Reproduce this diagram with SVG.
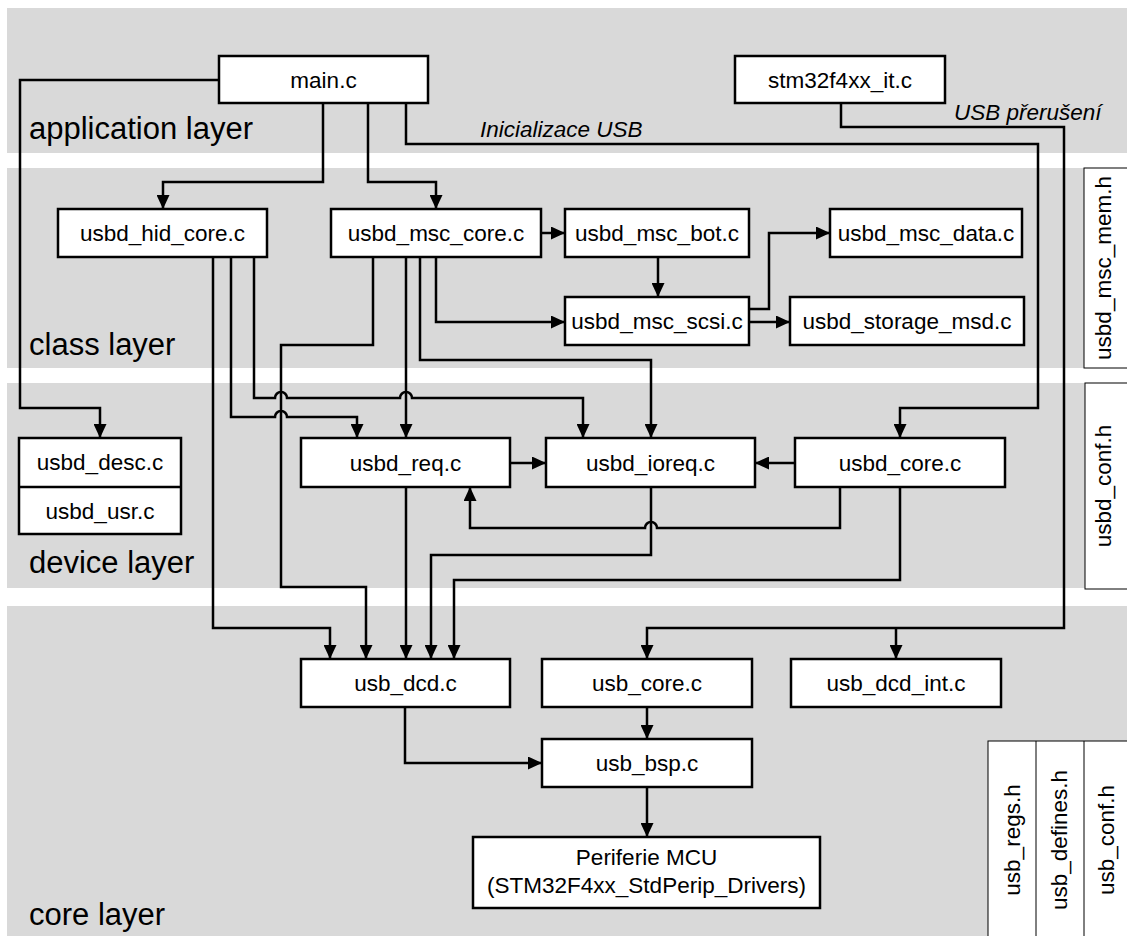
<svg xmlns="http://www.w3.org/2000/svg" width="1127" height="936" viewBox="0 0 1127 936">
<style>
.band{fill:#d9d9d9}
.box{fill:#fff;stroke:#000;stroke-width:2.5}
.hdr{fill:#fff;stroke:#000;stroke-width:1}
text{font-family:"Liberation Sans",Arial,sans-serif;fill:#000}
.t{font-size:22.5px;text-anchor:middle}
.layer{font-size:31px}
.it{font-size:22.5px;font-style:italic}
.c{fill:none;stroke:#000;stroke-width:2.5}
</style>
<defs>
<marker id="ah" markerUnits="userSpaceOnUse" markerWidth="14" markerHeight="13" refX="14" refY="6.5" orient="auto">
<path d="M0,0 L14,6.5 L0,13 z" fill="#000"/>
</marker>
</defs>
<g id="bands">
<rect class="band" x="7" y="8" width="1120" height="145"/>
<rect class="band" x="7" y="168" width="1120" height="200"/>
<rect class="band" x="7" y="383" width="1120" height="205"/>
<rect class="band" x="7" y="606" width="1120" height="330"/>
<text class="layer" x="29" y="139">application layer</text>
<text class="layer" x="29" y="355">class layer</text>
<text class="layer" x="29" y="573">device layer</text>
<text class="layer" x="29" y="925">core layer</text>
</g>
<g id="connectors" class="c" marker-end="url(#ah)">
<path d="M219,80 H20 V408 H100 V438"/>
<path d="M323,103 V182 H163 V209"/>
<path d="M368,103 V182 H436 V209"/>
<path d="M406,103 V144 H1038 V408 H900 V438"/>
<path d="M841,103 V127 H1064 V628 H647 V659"/>
<path d="M896,628 V659"/>
<path d="M541,233 H565"/>
<path d="M436,257 V322 H565"/>
<path d="M420,257 V360 H651 V438"/>
<path d="M406,257 V438"/>
<path d="M373,257 V345 H281 V587 H366 V659"/>
<path d="M658,257 V297"/>
<path d="M749,309 H769 V233 H830"/>
<path d="M749,322 H790"/>
<path d="M213,257 V628 H330 V659"/>
<path d="M231,257 V417 H275 a6,6 0 0 1 12,0 H357 V438"/>
<path d="M254,257 V398 H275 a6,6 0 0 1 12,0 H400 a6,6 0 0 1 12,0 H583 V438"/>
<path d="M406,487 V659"/>
<path d="M510,463 H546"/>
<path d="M795,463 H755"/>
<path d="M840,487 V528 H657 a6,6 0 0 0 -12,0 H470 V487"/>
<path d="M651,487 V555 H431 V659"/>
<path d="M900,487 V580 H454 V659"/>
<path d="M405,707 V763 H542"/>
<path d="M647,707 V739"/>
<path d="M647,787 V837"/>
</g>
<g id="labels">
<text class="it" x="480" y="137">Inicializace USB</text>
<text class="it" x="954" y="120">USB přerušení</text>
</g>
<g id="main"><rect class="box" x="219" y="56" width="209" height="47"/><text class="t" x="323.5" y="88">main.c</text></g>
<g id="stm32f4xx_it"><rect class="box" x="735" y="56" width="210" height="47"/><text class="t" x="840" y="88">stm32f4xx_it.c</text></g>
<g id="usbd_hid_core"><rect class="box" x="58" y="209" width="209" height="48"/><text class="t" x="162.5" y="241">usbd_hid_core.c</text></g>
<g id="usbd_msc_core"><rect class="box" x="331" y="209" width="210" height="48"/><text class="t" x="436" y="241">usbd_msc_core.c</text></g>
<g id="usbd_msc_bot"><rect class="box" x="565" y="209" width="184" height="48"/><text class="t" x="657" y="241">usbd_msc_bot.c</text></g>
<g id="usbd_msc_data"><rect class="box" x="830" y="209" width="192" height="48"/><text class="t" x="926" y="241">usbd_msc_data.c</text></g>
<g id="usbd_msc_scsi"><rect class="box" x="565" y="297" width="184" height="48"/><text class="t" x="657" y="329">usbd_msc_scsi.c</text></g>
<g id="usbd_storage_msd"><rect class="box" x="790" y="297" width="234" height="48"/><text class="t" x="907" y="329">usbd_storage_msd.c</text></g>
<g id="usbd_msc_mem_h"><rect class="hdr" x="1084" y="168" width="50" height="200"/><text class="t" transform="translate(1111,268) rotate(-90)">usbd_msc_mem.h</text></g>
<g id="usbd_desc_usr"><rect class="box" x="19" y="438" width="162" height="96"/><line x1="19" y1="487" x2="181" y2="487" stroke="#000" stroke-width="2.5"/><text class="t" x="100" y="470">usbd_desc.c</text><text class="t" x="100" y="518.5">usbd_usr.c</text></g>
<g id="usbd_req"><rect class="box" x="301" y="438" width="209" height="49"/><text class="t" x="405.5" y="470.5">usbd_req.c</text></g>
<g id="usbd_ioreq"><rect class="box" x="546" y="438" width="209" height="49"/><text class="t" x="650.5" y="470.5">usbd_ioreq.c</text></g>
<g id="usbd_core"><rect class="box" x="795" y="438" width="210" height="49"/><text class="t" x="900" y="470.5">usbd_core.c</text></g>
<g id="usbd_conf_h"><rect class="hdr" x="1085" y="383" width="50" height="206"/><text class="t" transform="translate(1111,486) rotate(-90)">usbd_conf.h</text></g>
<g id="usb_dcd"><rect class="box" x="301" y="659" width="209" height="48"/><text class="t" x="405.5" y="691">usb_dcd.c</text></g>
<g id="usb_core"><rect class="box" x="542" y="659" width="210" height="48"/><text class="t" x="647" y="691">usb_core.c</text></g>
<g id="usb_dcd_int"><rect class="box" x="791" y="659" width="210" height="48"/><text class="t" x="896" y="691">usb_dcd_int.c</text></g>
<g id="usb_bsp"><rect class="box" x="542" y="739" width="210" height="48"/><text class="t" x="647" y="771">usb_bsp.c</text></g>
<g id="periferie"><rect class="box" x="473" y="837" width="347" height="71"/><text class="t" x="646.5" y="865">Periferie MCU</text><text class="t" x="646.5" y="893">(STM32F4xx_StdPerip_Drivers)</text></g>
<g id="usb_headers">
<rect class="hdr" x="988" y="741" width="150" height="200"/>
<line x1="1036" y1="741" x2="1036" y2="936" stroke="#000" stroke-width="1"/>
<line x1="1084" y1="741" x2="1084" y2="936" stroke="#000" stroke-width="1"/>
<text class="t" transform="translate(1020,840) rotate(-90)">usb_regs.h</text>
<text class="t" transform="translate(1067,840) rotate(-90)">usb_defines.h</text>
<text class="t" transform="translate(1114,840) rotate(-90)">usb_conf.h</text>
</g>
</svg>
